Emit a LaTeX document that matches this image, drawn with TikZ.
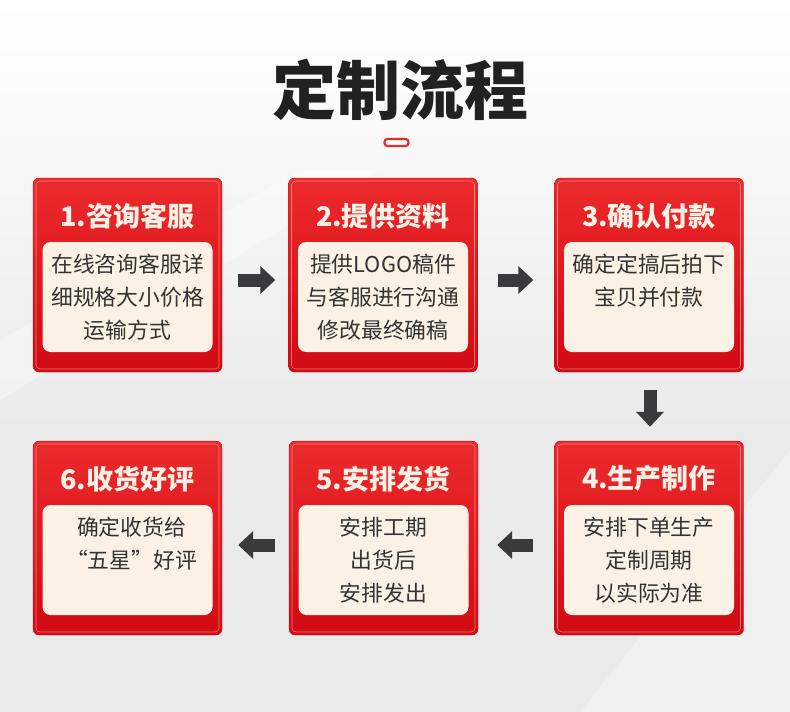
\documentclass[tikz,border=0pt]{standalone}
\usepackage{fontspec}
\newfontfamily\cjk{Noto Sans CJK SC}
\usetikzlibrary{arrows.meta,positioning}
\definecolor{rougeh}{HTML}{EC2A2C}
\definecolor{rougeb}{HTML}{D20A13}
\definecolor{creme}{HTML}{FBF1E5}
\definecolor{encre}{HTML}{333333}
\definecolor{fond}{HTML}{EAEAEA}
\definecolor{gris}{HTML}{3A3A3D}
\begin{document}
\begin{tikzpicture}[x=1pt,y=-1pt,etape/.style={minimum width=189pt,minimum height=194pt,rounded corners=6pt,top color=rougeh,bottom color=rougeb,draw=rougeb,inner sep=0pt},liseret/.style={minimum width=183pt,minimum height=188pt,rounded corners=4pt,draw=white,draw opacity=.45,line width=.6pt,inner sep=0pt},panneau/.style={minimum width=170pt,minimum height=110pt,rounded corners=8pt,fill=creme,inner sep=0pt},titre/.style={font=\cjk\bfseries\fontsize{27}{30}\selectfont,text=creme},texte/.style={font=\cjk\fontsize{21.8}{33}\selectfont,text=encre,align=center,anchor=north,inner sep=0pt},fleche/.style={gris,line width=13pt,-{Triangle[length=15pt,width=27pt]}}]
\useasboundingbox (0,0) rectangle (790,712);
% fond
\fill[fond] (0,0) rectangle (790,712);
\shade[top color=white,bottom color=fond] (0,0) rectangle (790,430);
\fill[white,opacity=.35] (0,340) -- (300,170) -- (380,170) -- (0,400) -- cycle;
\fill[white,opacity=.3] (790,450) -- (790,712) -- (580,712) -- cycle;
% en-tete
\node[font=\cjk\bfseries\fontsize{64}{70}\selectfont,text=black!87] (entete) at (400,90) {定制流程};
\node[draw=rougeh,line width=2.2pt,fill=white,rounded corners=3pt,minimum width=24pt,minimum height=7pt,inner sep=0pt] (trait) at (396.5,142.5) {};
% etapes
\node[etape] (box1) at (127.5,275) {};
\node[etape] (box2) at (383,275) {};
\node[etape] (box3) at (649,275) {};
\node[etape] (box4) at (649,538) {};
\node[etape] (box5) at (383.5,538) {};
\node[etape] (box6) at (127.5,538) {};
\foreach \b in {box1,box2,box3,box4,box5,box6}{
  \node[liseret] (l\b) at (\b) {};
  \node[panneau] (p\b) at ([yshift=-22pt]\b.center) {};
}
\node[titre] (t1) at ([yshift=-38pt]box1.north) {1.咨询客服};
\node[titre] (t2) at ([yshift=-38pt]box2.north) {2.提供资料};
\node[titre] (t3) at ([yshift=-38pt]box3.north) {3.确认付款};
\node[titre] (t4) at ([yshift=-38pt]box4.north) {4.生产制作};
\node[titre] (t5) at ([yshift=-38pt]box5.north) {5.安排发货};
\node[titre] (t6) at ([yshift=-38pt]box6.north) {6.收货好评};
\node[texte] (c1) at ([yshift=-12pt]pbox1.north) {在线咨询客服详\\细规格大小价格\\运输方式};
\node[texte] (c2) at ([yshift=-12pt]pbox2.north) {提供LOGO稿件\\与客服进行沟通\\修改最终确稿};
\node[texte] (c3) at ([yshift=-12pt]pbox3.north) {确定定搞后拍下\\宝贝并付款};
\node[texte] (c4) at ([yshift=-12pt]pbox4.north) {安排下单生产\\定制周期\\以实际为准};
\node[texte] (c5) at ([yshift=-12pt]pbox5.north) {安排工期\\出货后\\安排发出};
\node[texte] (c6) at ([yshift=-12pt,xshift=4pt]pbox6.north) {确定收货给\\“五星”好评};
% fleches
\draw[fleche,shorten <=16pt,shorten >=13pt] ([yshift=-5pt]box1.east) -- ([yshift=-5pt]box2.west);
\draw[fleche,shorten <=20pt,shorten >=21pt] ([yshift=-5pt]box2.east) -- ([yshift=-5pt]box3.west);
\draw[fleche,shorten <=18pt,shorten >=14pt] ([xshift=1pt]box3.south) -- ([xshift=1pt]box4.north);
\draw[fleche,shorten <=21pt,shorten >=19pt] ([yshift=-7pt]box4.west) -- ([yshift=-7pt]box5.east);
\draw[fleche,shorten <=14pt,shorten >=16pt] ([yshift=-7pt]box5.west) -- ([yshift=-7pt]box6.east);
\end{tikzpicture}
\end{document}
